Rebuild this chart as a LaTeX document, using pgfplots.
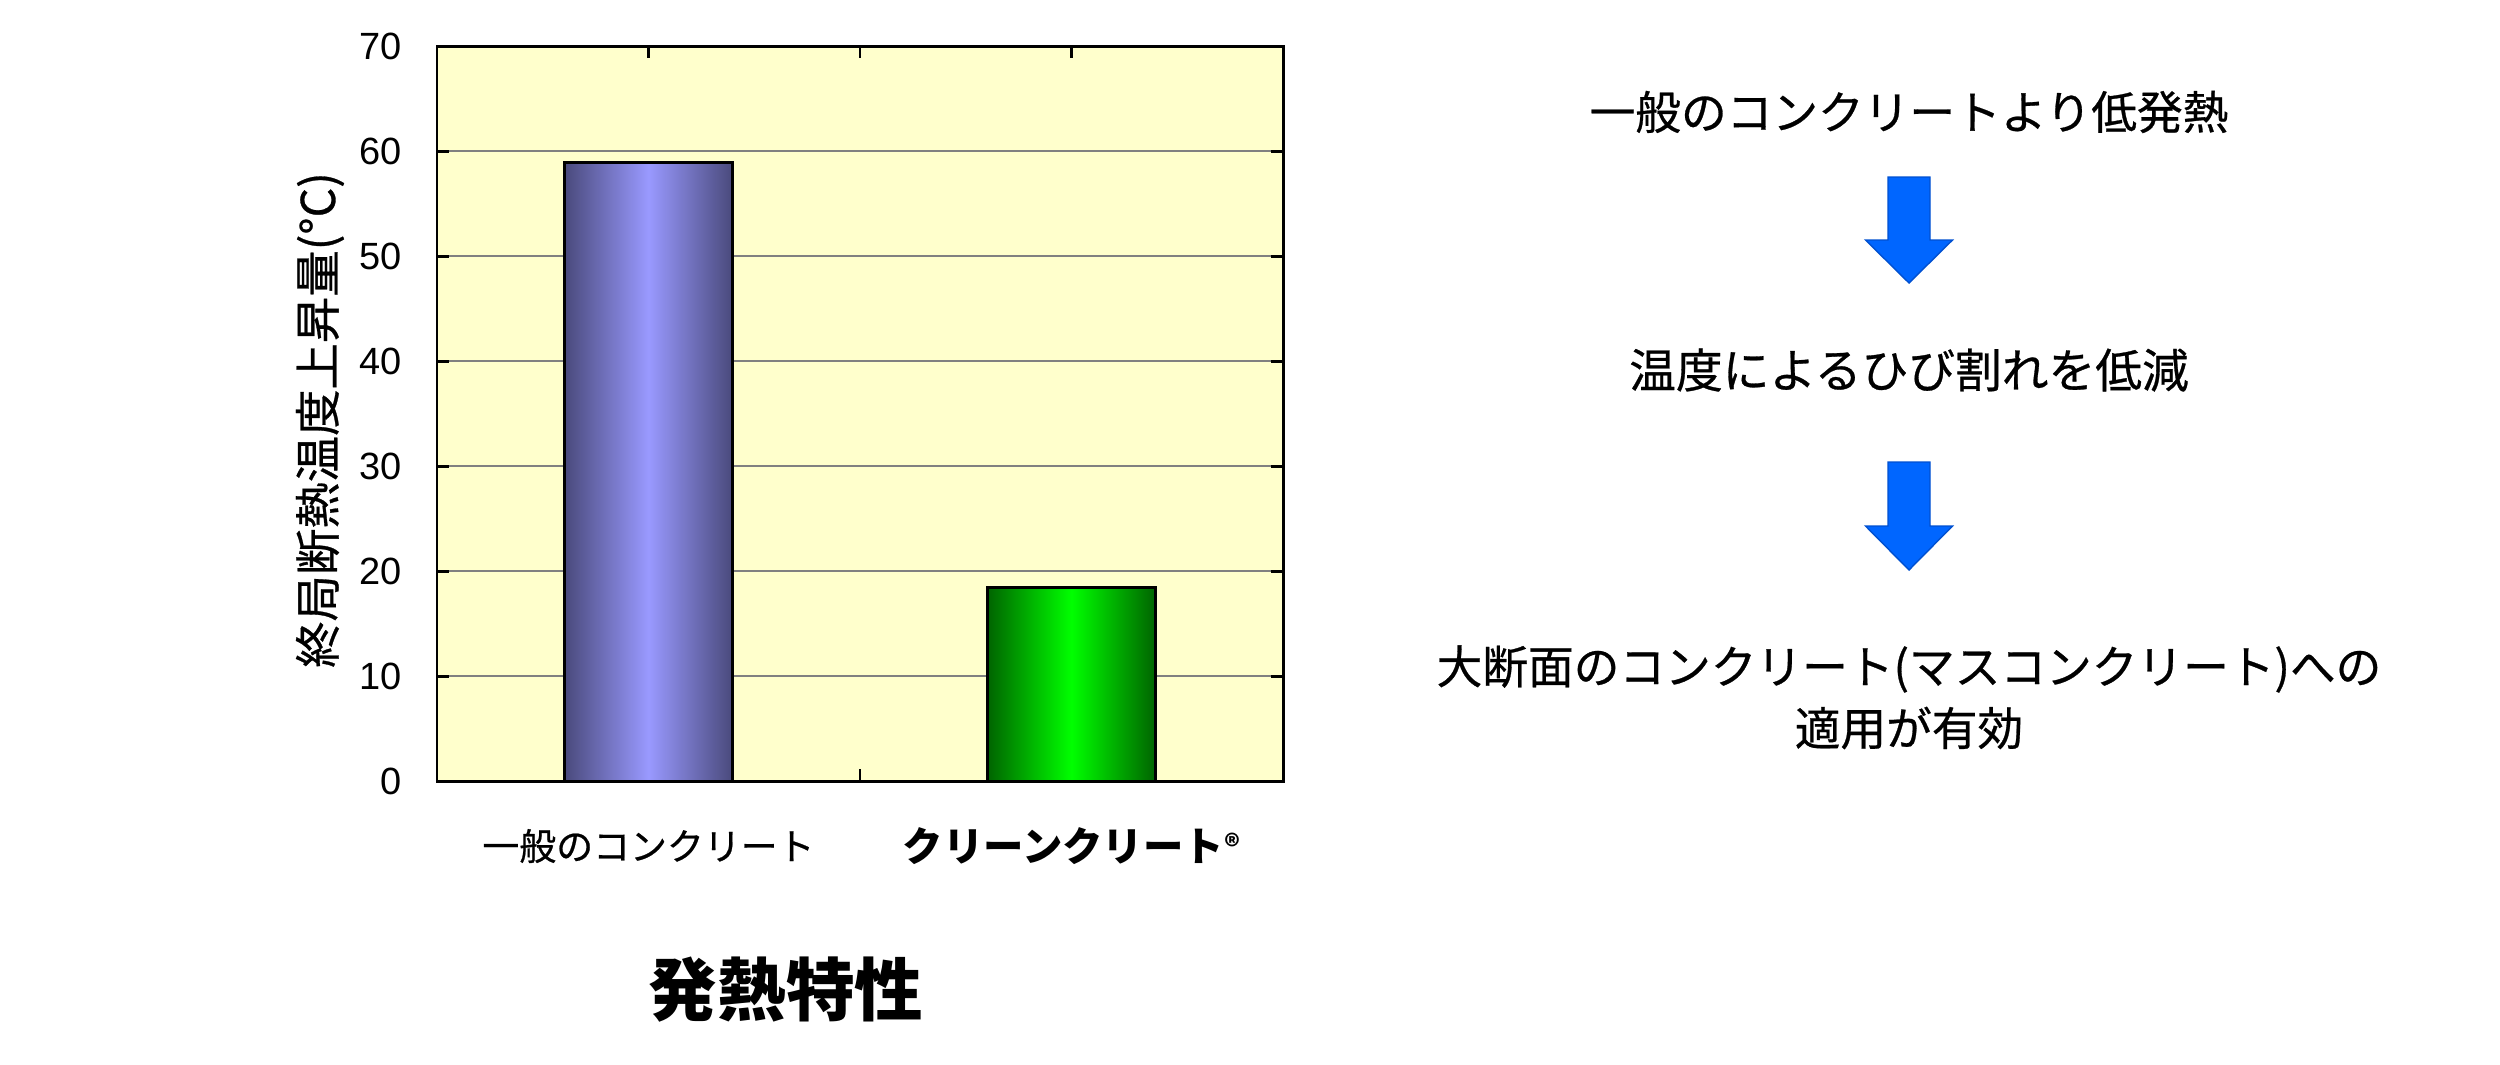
\documentclass[border=0pt]{standalone}
\usepackage{fontspec}
\setmainfont{Liberation Sans}
\newfontfamily\jp{Noto Sans CJK JP}
\newfontface\jpm{Noto Sans CJK JP}[FakeBold=0.6]
\usepackage{pgfplots}
\pgfplotsset{compat=1.18}

\definecolor{bgyellow}{HTML}{FFFFCC}
\definecolor{bluedark}{HTML}{4A4A7C}
\definecolor{bluelight}{HTML}{9999FF}
\definecolor{greendark}{HTML}{006400}
\definecolor{greenlight}{HTML}{00FF00}
\definecolor{gridgray}{HTML}{808080}
\definecolor{arrowblue}{HTML}{0066FF}
\definecolor{arrowedge}{HTML}{0050D0}

\begin{document}
\begin{tikzpicture}
% page = 2500 x 1064 px, 1 px = 0.1 mm
\useasboundingbox (0,0) rectangle (250mm,106.4mm);

\begin{axis}[
    at={(43.7mm,28.3mm)}, anchor=south west,
    width=84.6mm, height=73.5mm, scale only axis,
    xmin=-0.5, xmax=1.5, ymin=0, ymax=70,
    axis background/.style={fill=bgyellow},
    axis line style={black, line width=0.85pt},
    ytick={0,10,...,70},
    xtick={0,0.5,1},
    xticklabels={{\jpm 一般のコンクリート},,{\jp\bfseries\fontsize{11.5}{13}\selectfont クリーンクリート\raisebox{0.1em}{\fontsize{8.5}{9}\selectfont ®}}},
    tick align=inside,
    major tick length=1.2mm,
    tick style={black, line width=0.85pt},
    ymajorgrids,
    grid style={gridgray, line width=0.6pt},
    /pgf/number format/assume math mode=true,
    yticklabel style={font=\fontsize{10.8}{12}\selectfont, inner sep=0pt, xshift=-3.5mm},
    xticklabel style={font=\fontsize{10.5}{12}\selectfont, anchor=center, inner sep=0pt, yshift=-6.5mm},
  ]
  \addplot[ybar, bar width=0.397, bar shift=0pt, draw=black, line width=0.7pt,
    left color=bluedark, right color=bluedark, middle color=bluelight]
    coordinates {(0,58.9)};
  \addplot[ybar, bar width=0.397, bar shift=0pt, draw=black, line width=0.7pt,
    left color=greendark, right color=greendark, middle color=greenlight]
    coordinates {(1,18.45)};
\end{axis}

% y label
\node[rotate=90, font=\jpm\fontsize{13.2}{15}\selectfont] at (32mm,64.4mm) {終局断熱温度上昇量(°C)};

% title
\node[font=\jp\bfseries\fontsize{19.5}{22}\selectfont] at (78.6mm,7.4mm) {発熱特性};

% right-hand explanation
\node[font=\jpm\fontsize{13}{15}\selectfont] at (190.9mm,95.2mm) {一般のコンクリートより低発熱};
\node[font=\jpm\fontsize{13.3}{15}\selectfont] at (190.9mm,69.4mm) {温度によるひび割れを低減};
\node[font=\jpm\fontsize{13}{15}\selectfont] at (190.9mm,39.5mm) {大断面のコンクリート(マスコンクリート)への};
\node[font=\jpm\fontsize{13}{15}\selectfont] at (190.9mm,33.6mm) {適用が有効};

\fill[arrowblue, draw=arrowedge, line width=0.4pt]
  (188.8mm,88.7mm) -- (193.0mm,88.7mm) -- (193.0mm,82.4mm) -- (195.25mm,82.4mm)
  -- (190.9mm,78.1mm) -- (186.55mm,82.4mm) -- (188.8mm,82.4mm) -- cycle;
\fill[arrowblue, draw=arrowedge, line width=0.4pt]
  (188.8mm,60.2mm) -- (193.0mm,60.2mm) -- (193.0mm,53.8mm) -- (195.25mm,53.8mm)
  -- (190.9mm,49.4mm) -- (186.55mm,53.8mm) -- (188.8mm,53.8mm) -- cycle;
\end{tikzpicture}
\end{document}
